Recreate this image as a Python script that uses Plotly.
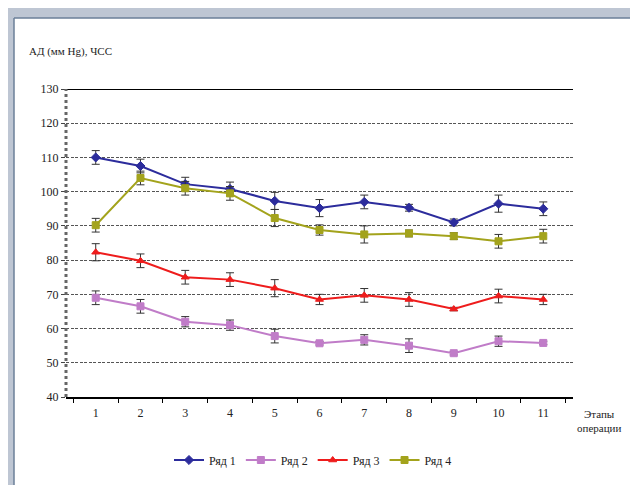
import plotly.graph_objects as go

stages = ["1", "2", "3", "4", "5", "6", "7", "8", "9", "10", "11"]
series_names = ["Ряд 1", "Ряд 2", "Ряд 3", "Ряд 4"]
row1 = [110, 107.5, 102.2, 100.8, 97.3, 95.2, 97, 95.3, 91, 96.5, 95]
row2 = [69, 66.5, 62, 61, 57.8, 55.7, 56.7, 55, 52.8, 56.3, 55.8]
row3 = [82.3, 79.8, 75, 74.3, 71.8, 68.5, 69.7, 68.5, 65.7, 69.5, 68.5]
row4 = [90.2, 104, 101, 99.5, 92.3, 88.8, 87.5, 87.8, 87, 85.5, 87]
err1 = [2, 2, 2, 2, 2.5, 2.5, 2, 1, 1, 2.5, 2]
err2 = [2, 2, 1.5, 1.5, 2, 0.5, 1.5, 2, 0.5, 1.5, 0.5]
err3 = [2.5, 2, 2, 2, 2.5, 1.5, 2, 2, 0.5, 2, 1.5]
err4 = [2, 2, 2, 2, 2.5, 1.5, 2.5, 1, 1, 2, 2]

colors = ["#2c2c9c", "#c07cc8", "#ee1c1c", "#a3a31c"]
symbols = ["diamond", "square", "triangle-up", "square"]
values = [row1, row2, row3, row4]
errors = [err1, err2, err3, err4]

FONT = "Liberation Serif, Times New Roman, serif"

fig = go.Figure()
for name, v, e, c, s in zip(series_names, values, errors, colors, symbols):
    fig.add_trace(go.Scatter(
        x=stages, y=v, name=name, mode="lines+markers",
        line=dict(color=c, width=2),
        marker=dict(symbol=s, size=7, color=c, line=dict(color=c, width=1)),
        error_y=dict(type="data", array=e, visible=True, color="#333333",
                     thickness=1, width=4),
    ))

L, R, T, B = 58, 73, 81, 96
PW, PH = 638 - L - R, 485 - T - B

def px(x):
    return (x - L) / PW

def py(y):
    return (485 - B - y) / PH

shapes = [
    dict(type="rect", xref="paper", yref="paper", x0=px(6), x1=px(640),
         y0=py(487), y1=py(10), fillcolor="white", line=dict(width=0), layer="below"),
    dict(type="line", xref="paper", yref="paper", x0=px(6), x1=px(640),
         y0=py(10), y1=py(10), line=dict(color="#6b7f99", width=1.5), layer="below"),
    dict(type="line", xref="paper", yref="paper", x0=px(6), x1=px(6),
         y0=py(10), y1=py(487), line=dict(color="#6b7f99", width=1.5), layer="below"),
    dict(type="line", xref="paper", yref="y", x0=0, x1=1, y0=130, y1=130,
         line=dict(color="black", width=2)),
    dict(type="line", xref="paper", yref="y", x0=0, x1=0, y0=40, y1=130,
         line=dict(color="#666666", width=3, dash="dot")),
]

fig.update_layout(
    width=638, height=485,
    margin=dict(l=L, r=R, t=T, b=B),
    paper_bgcolor="#bec6d3",
    plot_bgcolor="white",
    font=dict(family=FONT, size=12, color="#222222"),
    showlegend=True,
    legend=dict(orientation="h", x=px(305), y=py(452), xanchor="center",
                yanchor="middle", font=dict(family=FONT, size=12),
                bgcolor="rgba(0,0,0,0)", tracegroupgap=0),
    shapes=shapes,
    annotations=[
        dict(text="АД (мм Hg), ЧСС", xref="paper", yref="paper",
             x=px(19), y=py(43), xanchor="left", yanchor="middle",
             showarrow=False, font=dict(family=FONT, size=11)),
        dict(text="Этапы<br>операции", xref="paper", yref="paper",
             x=px(591), y=py(413), xanchor="center", yanchor="middle",
             showarrow=False, font=dict(family=FONT, size=11)),
    ],
)
fig.update_xaxes(
    type="category", tickson="boundaries", ticks="outside", ticklen=4,
    tickcolor="black", showline=True, linecolor="black", linewidth=2,
    showgrid=False, zeroline=False, ticklabelstandoff=4,
    tickfont=dict(family=FONT, size=12),
)
fig.update_yaxes(
    range=[40, 130], dtick=10, tick0=40, ticks="outside", ticklen=4,
    tickcolor="#444444", showline=False, showgrid=True,
    gridcolor="#555555", griddash="3px,1.5px", gridwidth=1.3, zeroline=False,
    tickfont=dict(family=FONT, size=12),
)

fig.write_html("out.html")
